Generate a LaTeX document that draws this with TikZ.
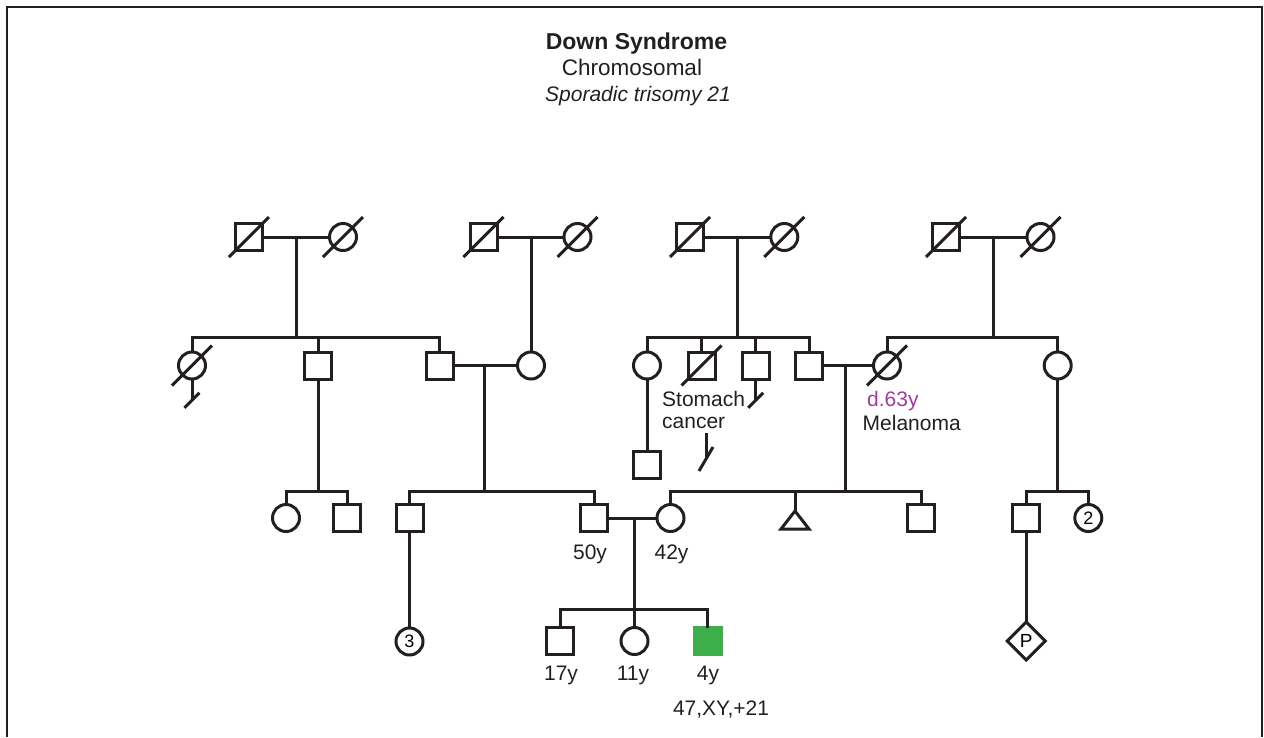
\documentclass[tikz,border=0pt]{standalone}
\usepackage{fontspec}
\setmainfont{Liberation Sans}
\usetikzlibrary{shapes.geometric,calc}
\definecolor{ink}{RGB}{35,31,32}
\definecolor{aff}{RGB}{61,174,73}
\definecolor{purp}{RGB}{160,60,160}
\tikzset{
  ln/.style={draw=ink, line width=3pt},
  ind/.style={draw=ink, line width=3pt, inner sep=0pt, outer sep=0pt, minimum size=27pt, font=\fontsize{18}{20}\selectfont},
  male/.style={ind, rectangle},
  female/.style={ind, circle},
  lbl/.style={inner sep=0pt, text=ink, font=\fontsize{21}{24}\selectfont},
}
\newcommand\deadmark[1]{\draw[ln] ([shift={(-20,20)}]#1.center) -- ([shift={(20,-20)}]#1.center);}
\begin{document}
\begin{tikzpicture}[x=1pt,y=-1pt]
\useasboundingbox (0,0) rectangle (1264,737);
% frame
\draw[draw=ink, line width=2pt] (7,737) -- (7,6.5) -- (1262,6.5) -- (1262,737);
% title
\node[lbl, anchor=base, font=\fontsize{23}{25}\selectfont\bfseries] (t1) at (636.5,49) {Down Syndrome};
\node[lbl, anchor=base, font=\fontsize{22.5}{25}\selectfont] (t2) at (632,75.7) {Chromosomal};
\node[lbl, anchor=base, font=\fontsize{21}{24}\selectfont\itshape] (t3) at (638,101.7) {Sporadic trisomy 21};
% ---------- generation I
\node[male] (A1) at (249,237) {};
\node[female] (A2) at (343,237) {};
\node[male] (B1) at (483.5,237) {};
\node[female] (B2) at (577.5,237) {};
\node[male] (C1) at (690,237) {};
\node[female] (C2) at (784.3,237) {};
\node[male] (D1) at (946,237) {};
\node[female] (D2) at (1040.5,237) {};
\foreach \n in {A1,A2,B1,B2,C1,C2,D1,D2} {\deadmark{\n}}
\draw[ln] (A1) -- (A2);
\draw[ln] (B1) -- (B2);
\draw[ln] (C1) -- (C2);
\draw[ln] (D1) -- (D2);
\coordinate (mA) at (296.5,237);
\coordinate (mB) at (531,237);
\coordinate (mC) at (737.3,237);
\coordinate (mD) at (993.5,237);
\coordinate (sA) at (296.5,337.5);
\coordinate (sC) at (737.3,337.5);
\coordinate (sD) at (993.5,337.5);
% ---------- generation II
\node[female] (a1) at (192,365.5) {};
\node[male] (a2) at (318,365.5) {};
\node[male] (a3) at (439.5,365.5) {};
\node[female] (b1) at (531,365.5) {};
\node[female] (c1) at (647,365.5) {};
\node[male] (c2) at (701.5,365.5) {};
\node[male] (c3) at (755.7,365.5) {};
\node[male] (c4) at (809,365.5) {};
\node[female] (d1) at (887,365.5) {};
\node[female] (d2) at (1057.7,365.5) {};
\deadmark{a1}
\deadmark{c2}
\deadmark{d1}
\draw[ln] (mA) -- (sA);
\draw[ln] (a1.north) |- (sA) -| (a3.north);
\draw[ln] (a2.north) -- (a2.north |- sA);
\draw[ln] (mB) -- (b1.north);
\draw[ln] (mC) -- (sC);
\draw[ln] (c1.north) |- (sC) -| (c4.north);
\draw[ln] (c2.north) -- (c2.north |- sC);
\draw[ln] (c3.north) -- (c3.north |- sC);
\draw[ln] (mD) -- (sD);
\draw[ln] (d1.north) |- (sD) -| (d2.north);
\draw[ln] (a3) -- (b1);
\draw[ln] (c4) -- (d1);
% no-offspring marks
\coordinate (na) at (192,400.3);
\draw[ln] (a1.south) -- (na);
\draw[ln] ([shift={(-7.5,7.5)}]na) -- ([shift={(7.5,-7.5)}]na);
\coordinate (nc) at (755.7,400.3);
\draw[ln] (c3.south) -- (nc);
\draw[ln] ([shift={(-7.5,7.5)}]nc) -- ([shift={(7.5,-7.5)}]nc);
\coordinate (nk0) at (706,433);
\coordinate (nk) at (706,459);
\draw[ln] (nk0) -- (nk);
\draw[ln] ([shift={(-7,12)}]nk) -- ([shift={(7,-12)}]nk);
% labels gen II
\node[lbl, anchor=base west] (st1) at (662,406) {Stomach};
\node[lbl, anchor=base west] (st2) at (662,428.5) {cancer};
\node[lbl, anchor=base west, text=purp] (dd) at (867,406) {d.63y};
\node[lbl, anchor=base west] (mel) at (862.5,430) {Melanoma};
% ---------- generation III
\coordinate (mAB) at (484.3,365.5);
\coordinate (sF) at (484.3,491);
\coordinate (mCD) at (845.7,365.5);
\coordinate (sG) at (845.7,491);
\coordinate (sE) at (318,491);
\coordinate (sH) at (1057.7,491);
\node[male] (j1) at (647,465) {};
\draw[ln] (c1) -- (j1);
\node[female] (e1) at (286,518) {};
\node[male] (e2) at (347,518) {};
\node[male] (f1) at (409.5,518) {};
\node[male] (f2) at (594,518) {};
\node[female] (g1) at (670.5,518) {};
\coordinate (tri) at (795,511);
\node[male] (g3) at (921.3,518) {};
\node[male] (h1) at (1026.3,518) {};
\node[female] (h2) at (1088.3,518) {2};
\draw[ln, line join=miter] (tri) -- ++(-14,18) -- ++(28,0) -- cycle;
\draw[ln] (a2.south) -- (sE);
\draw[ln] (e1.north) |- (sE) -| (e2.north);
\draw[ln] (mAB) -- (sF);
\draw[ln] (f1.north) |- (sF) -| (f2.north);
\draw[ln] (mCD) -- (sG);
\draw[ln] (g1.north) |- (sG) -| (g3.north);
\draw[ln] (tri) -- (tri |- sG);
\draw[ln] (d2.south) -- (sH);
\draw[ln] (h1.north) |- (sH) -| (h2.north);
\draw[ln] (f2) -- (g1);
\node[lbl, anchor=base] (l50) at (590,559) {50y};
\node[lbl, anchor=base] (l42) at (671.5,559) {42y};
% ---------- generation IV
\coordinate (mFG) at (634,518);
\coordinate (sK) at (634,609.5);
\node[female] (l1) at (409.5,641.5) {3};
\node[male] (k1) at (560,641) {};
\node[female] (k2) at (634.5,641) {};
\node[male, fill=aff, draw=aff] (k3) at (707.7,641) {};
\node[ind, diamond, minimum size=38pt, font=\fontsize{19}{20}\selectfont] (p1) at (1026.3,641) {P};
\draw[ln] (f1) -- (l1);
\draw[ln] (h1) -- (p1);
\draw[ln] (mFG) -- (sK);
\draw[ln] (k1.north) |- (sK) -| (k3.north);
\draw[ln] (k2.north) -- (k2.north |- sK);
\node[lbl, anchor=base] (l17) at (561,680) {17y};
\node[lbl, anchor=base] (l11) at (633,680) {11y};
\node[lbl, anchor=base] (l4) at (708,680) {4y};
\node[lbl, anchor=base] (kar) at (721,715) {47,XY,+21};
\end{tikzpicture}
\end{document}
